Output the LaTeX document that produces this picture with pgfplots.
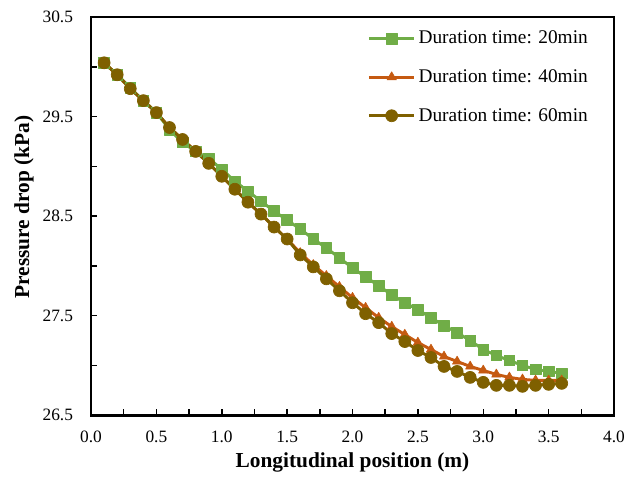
\documentclass[border=0pt]{standalone}
\usepackage{fontspec}
\setmainfont{Liberation Serif}
\usepackage{pgfplots}
\pgfplotsset{compat=1.18}
\definecolor{dgreen}{HTML}{70AD47}
\definecolor{dorange}{HTML}{C55A11}
\definecolor{dbrown}{HTML}{7F6000}

\pgfplotstableread{
x    t20    t40    t60
0.1  30.04  30.04  30.04
0.2  29.92  29.92  29.92
0.3  29.79  29.78  29.78
0.4  29.66  29.66  29.66
0.5  29.54  29.54  29.54
0.6  29.37  29.39  29.39
0.7  29.24  29.27  29.27
0.8  29.15  29.15  29.15
0.9  29.08  29.03  29.03
1.0  28.97  28.90  28.90
1.1  28.85  28.77  28.77
1.2  28.75  28.64  28.64
1.3  28.65  28.52  28.52
1.4  28.55  28.39  28.39
1.5  28.46  28.27  28.27
1.6  28.37  28.13  28.11
1.7  28.27  28.01  27.99
1.8  28.18  27.90  27.87
1.9  28.08  27.79  27.75
2.0  27.98  27.68  27.63
2.1  27.89  27.58  27.52
2.2  27.80  27.48  27.43
2.3  27.71  27.39  27.32
2.4  27.63  27.31  27.24
2.5  27.56  27.23  27.15
2.6  27.48  27.16  27.08
2.7  27.40  27.09  26.99
2.8  27.33  27.04  26.94
2.9  27.25  26.99  26.88
3.0  27.16  26.95  26.83
3.1  27.10  26.91  26.80
3.2  27.05  26.88  26.80
3.3  27.00  26.86  26.79
3.4  26.96  26.85  26.80
3.5  26.94  26.85  26.81
3.6  26.92  26.85  26.82
}\pressure

\begin{document}
\begin{tikzpicture}
% axis box sits at (0,0)--(392pt,298.5pt); margins as in the reference
\path[use as bounding box] (-68.25pt,-51pt) rectangle (400.25pt,311.25pt);
\begin{axis}[
    scale only axis,
    width=392pt, height=298.5pt,
    xmin=0, xmax=4, ymin=26.5, ymax=30.5,
    axis lines=box,
    xtick={0,0.5,...,4},
    minor xtick={0.25,0.75,...,3.75},
    ytick={26.5,27.5,...,30.5},
    minor ytick={27,28,29,30},
    xtick pos=bottom, ytick pos=left,
    tick align=inside,
    major tick length=4.5pt,
    minor tick length=4.5pt,
    axis line style={black,line width=2pt},
    every tick/.append style={black,line width=1.1pt},
    /pgf/number format/assume math mode=true,
    /pgf/number format/fixed,
    /pgf/number format/fixed zerofill,
    /pgf/number format/precision=1,
    tick label style={font=\fontsize{13}{15}\selectfont},
    yticklabel style={xshift=-10pt},
    xticklabel style={yshift=-8pt},
    xlabel={\textbf{Longitudinal position (m)}},
    ylabel={\textbf{Pressure drop (kPa)}},
    label style={font=\fontsize{16}{18}\selectfont},
    xlabel style={at={(axis description cs:0.5,-0.118)},anchor=center},
    ylabel style={at={(axis description cs:-0.128,0.523)},anchor=center},
    legend style={draw=none,fill=none,at={(axis description cs:0.528,0.972)},anchor=north west,
        font=\fontsize{14.5}{16}\selectfont,row sep=13.8pt,inner sep=0pt,
        /tikz/every even column/.append style={column sep=2pt}},
    legend cell align=left,
    legend image code/.code={\draw[mark repeat=2,mark phase=2,#1] plot coordinates {(0cm,0cm) (0.6cm,0cm) (1.2cm,0cm)};},
    every axis plot/.append style={line width=2.2pt,line join=round},
]
\addplot[color=dgreen, mark=square*, mark size=4pt, mark options={solid,line width=0.5pt}] table[x=x,y=t20] {\pressure};
\addlegendentry{Duration time: 20min}
\addplot[color=dorange, mark=triangle*, mark size=4pt, mark options={solid,line width=0.5pt}] table[x=x,y=t40] {\pressure};
\addlegendentry{Duration time: 40min}
\addplot[color=dbrown, mark=*, mark size=4.5pt, mark options={solid,line width=0.5pt}] table[x=x,y=t60] {\pressure};
\addlegendentry{Duration time: 60min}
\end{axis}
% closing top and right edges of the plot frame
\draw[black,line width=2.2pt,line cap=rect] (0pt,298.5pt) -- (392pt,298.5pt) -- (392pt,0pt);
\end{tikzpicture}
\end{document}
